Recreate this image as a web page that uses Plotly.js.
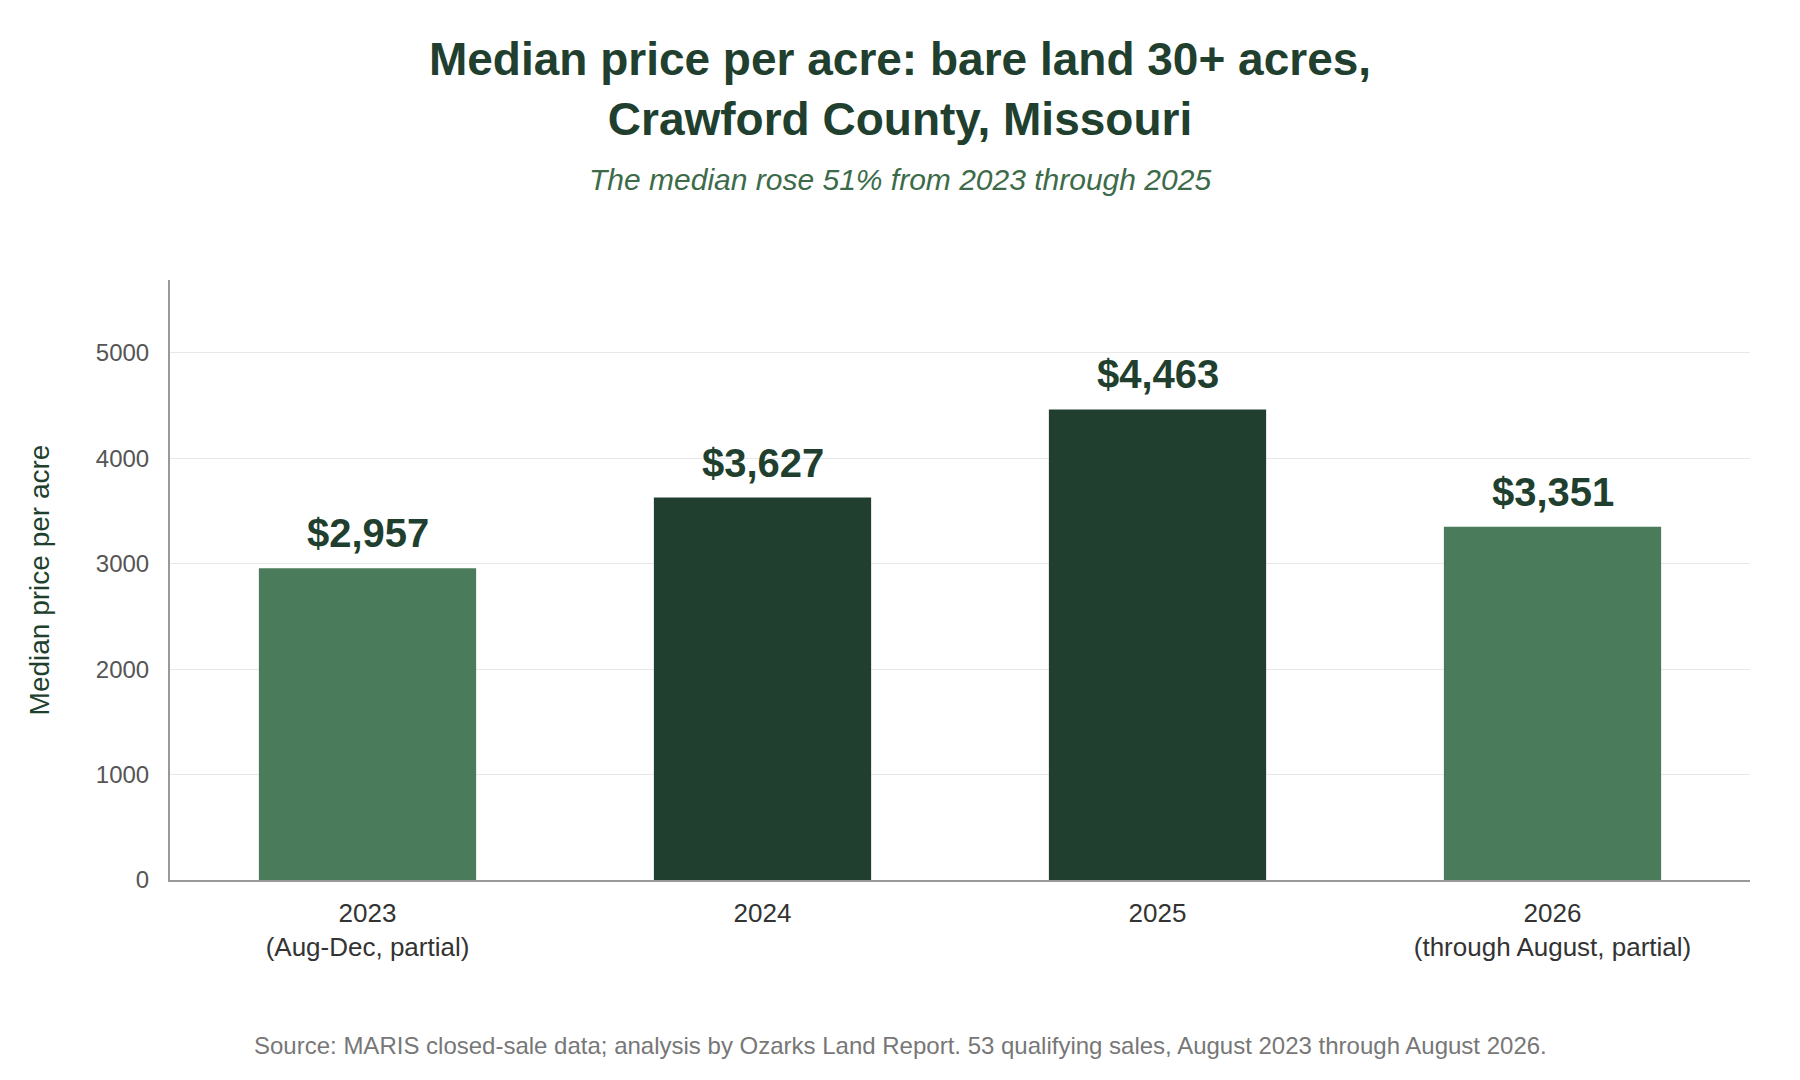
<!DOCTYPE html>
<html>
<head>
<meta charset="utf-8">
<script src="https://cdn.plot.ly/plotly-3.0.1.min.js"></script>
<style>
  html, body { margin: 0; padding: 0; background: #fff; }
  #chart { width: 1800px; height: 1080px; }
</style>
</head>
<body>
<div id="chart"></div>
<script>
// data
let years = ['2023', '2024', '2025', '2026'];
let yearNotes = ['(Aug-Dec, partial)', '', '', '(through August, partial)'];
let medianPrice = [2957, 3627, 4463, 3351];
let isPartial = [true, false, false, true];

let titleText = 'Median price per acre: bare land 30+ acres,<br>Crawford County, Missouri';
let subtitleText = 'The median rose 51% from 2023 through 2025';
let sourceText = 'Source: MARIS closed-sale data; analysis by Ozarks Land Report. 53 qualifying sales, August 2023 through August 2026.';

let darkGreen = '#213f2e';
let lightGreen = '#4a7c5c';
let font = 'Liberation Sans, Arial, Helvetica, sans-serif';

let W = 1800, H = 1080;
let margin = { l: 170, r: 50, t: 280, b: 200 };

let categories = years.map((y, i) => yearNotes[i] ? y + '<br>' + yearNotes[i] : y);

function money(v) {
  return '$' + v.toLocaleString('en-US');
}

// convert a page position into paper coords
function paperX(px) { return (px - margin.l) / (W - margin.l - margin.r); }
function paperY(py) { return (H - margin.b - py) / (H - margin.t - margin.b); }

let trace = {
  type: 'bar',
  x: categories,
  y: medianPrice,
  width: 0.55,
  marker: { color: isPartial.map(p => p ? lightGreen : darkGreen) },
  hoverinfo: 'skip'
};

// value labels: x by category index, since '2024' etc. would be read as a number
let labels = medianPrice.map((v, i) => ({
  x: i,
  y: v,
  xref: 'x',
  yref: 'y',
  text: money(v),
  showarrow: false,
  yanchor: 'bottom',
  yshift: 11,
  font: { family: font, size: 40, weight: 'bold', color: darkGreen }
}));

let layout = {
  width: W,
  height: H,
  margin: margin,
  paper_bgcolor: '#ffffff',
  plot_bgcolor: '#ffffff',
  showlegend: false,
  font: { family: font },
  title: {
    text: titleText,
    font: { family: font, size: 46, weight: 'bold', color: darkGreen },
    x: 0.5,
    xref: 'container',
    xanchor: 'center',
    y: 1 - 75 / H,
    yref: 'container',
    yanchor: 'top'
  },
  xaxis: {
    type: 'category',
    range: [-0.5, years.length - 0.5],
    showline: true,
    linecolor: '#999999',
    linewidth: 2,
    showgrid: false,
    ticks: '',
    ticklabelstandoff: 9,
    tickfont: { family: font, size: 26, color: '#333333' },
    fixedrange: true
  },
  yaxis: {
    range: [0, 5690],
    dtick: 1000,
    showline: true,
    linecolor: '#999999',
    linewidth: 2,
    showgrid: true,
    gridcolor: '#e8e8e8',
    gridwidth: 1,
    zeroline: false,
    ticks: '',
    ticklabelstandoff: 14,
    tickfont: { family: font, size: 24, color: '#555555' },
    title: {
      text: 'Median price per acre',
      font: { family: font, size: 28, color: darkGreen },
      standoff: 38
    },
    automargin: false,
    fixedrange: true
  },
  annotations: labels.concat([
    {
      text: '<i>' + subtitleText + '</i>',
      xref: 'paper', yref: 'paper',
      x: paperX(W / 2), y: paperY(179),
      xanchor: 'center', yanchor: 'middle',
      showarrow: false,
      font: { family: font, size: 30, color: '#3d6b4a' }
    },
    {
      text: sourceText,
      xref: 'paper', yref: 'paper',
      x: paperX(W / 2), y: paperY(1045),
      xanchor: 'center', yanchor: 'middle',
      showarrow: false,
      font: { family: font, size: 24, color: '#777777' }
    }
  ])
};

Plotly.newPlot('chart', [trace], layout, { staticPlot: true, displayModeBar: false });
</script>
</body>
</html>
